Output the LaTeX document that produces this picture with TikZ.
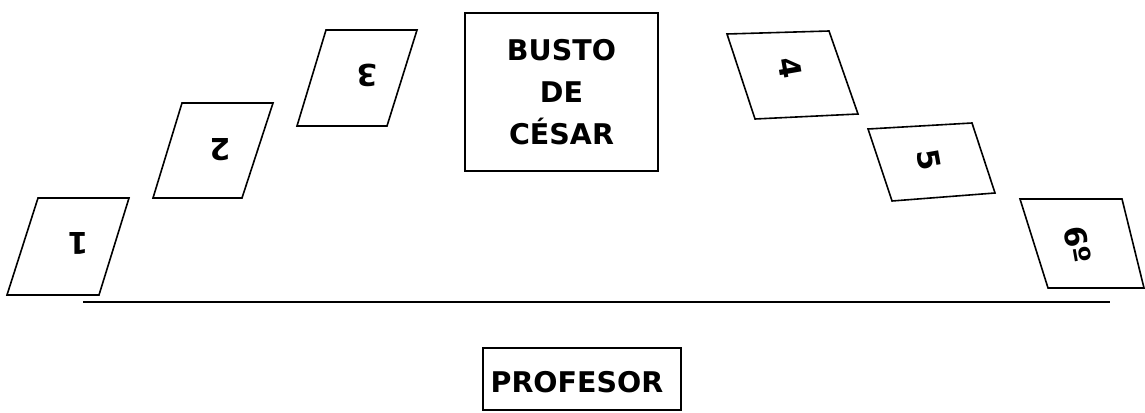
\documentclass[tikz,border=0pt]{standalone}
\usepackage{fontspec}
\setmainfont{DejaVu Sans}
\begin{document}
\begin{tikzpicture}[x=1pt,y=-1pt,
  card/.style={draw=black,line width=1.6pt,line join=miter,fill=white},
  boxline/.style={draw=black,line width=2.4pt},
  lbl/.style={font=\bfseries\fontsize{28.5}{42}\selectfont,inner sep=0pt,align=center},
  num/.style={font=\bfseries\fontsize{30}{36}\selectfont,inner sep=0pt}]
\useasboundingbox (0,0) rectangle (1145,412);
% cards
\draw[card] (38,198) -- (129,198) -- (99,295) -- (7,295) -- cycle;
\node[num,rotate=180] (n1) at (78,243) {1};
\draw[card] (182,103) -- (273,103) -- (242,198) -- (153,198) -- cycle;
\node[num,rotate=180] (n2) at (220,150) {2};
\draw[card] (326,30) -- (417,30) -- (387,126) -- (297,126) -- cycle;
\node[num,rotate=180] (n3) at (367,75) {3};
\draw[card] (727,34) -- (829,31) -- (858,114) -- (755,119) -- cycle;
\node[num,rotate=-80] (n4) at (790,68) {4};
\draw[card] (868,129) -- (972,123) -- (995,193) -- (892,201) -- cycle;
\node[num,rotate=-80] (n5) at (929,160) {5};
\draw[card] (1020,199) -- (1122,199) -- (1144,288) -- (1048,288) -- cycle;
\node[num,rotate=-80] (n6) at (1078,245) {6º};
% busto
\node[boxline,minimum width=193pt,minimum height=158pt,inner sep=0pt] (busto) at (561.5,92) {};
\node[lbl] (bt) at (busto.center) {BUSTO\\DE\\CÉSAR};
% line
\coordinate (la) at (83,302);
\coordinate (lb) at (1110,302);
\draw[line width=1.4pt] (la) -- (lb);
% profesor
\node[boxline,minimum width=198pt,minimum height=62pt,inner sep=0pt] (prof) at (582,379) {};
\node[lbl] (pt) at (577,382) {PROFESOR};
\end{tikzpicture}
\end{document}
